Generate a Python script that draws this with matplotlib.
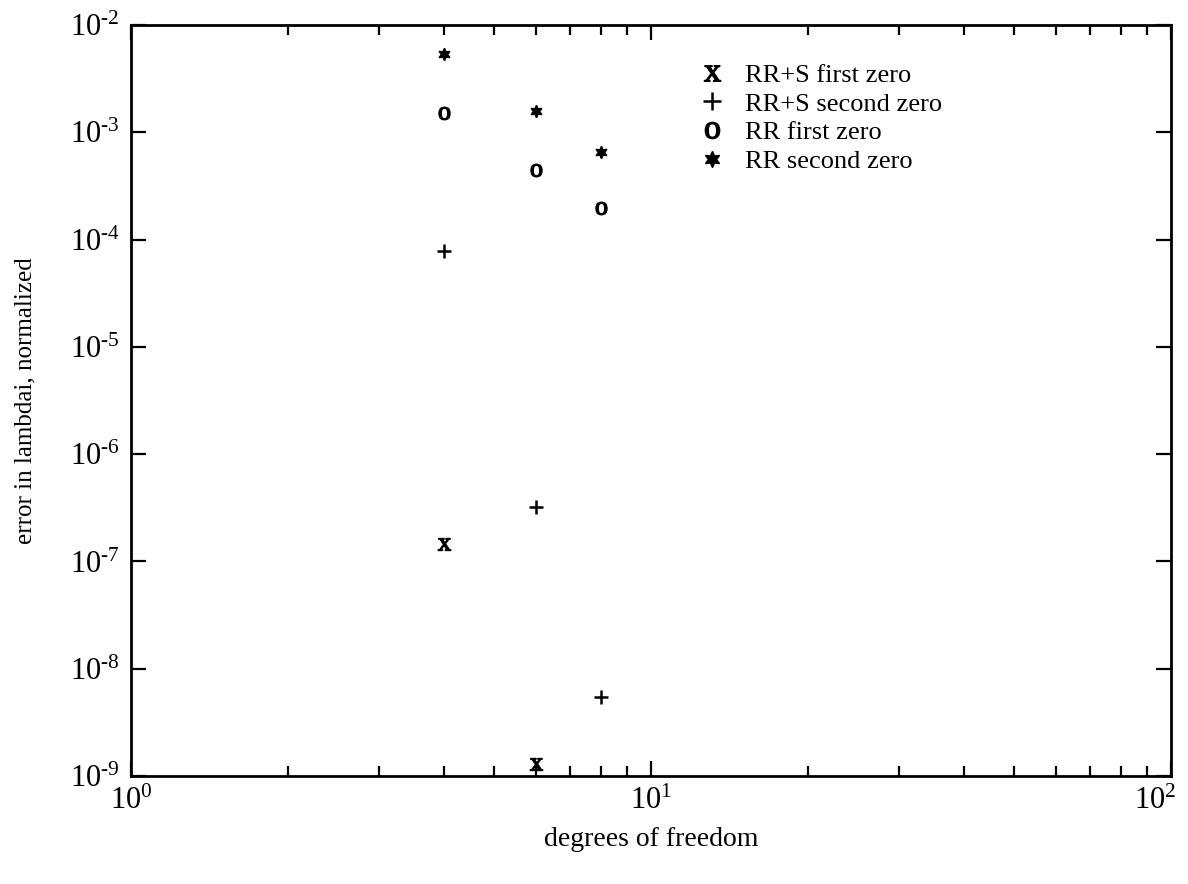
import matplotlib.pyplot as plt
import matplotlib.ticker as ticker
import matplotlib.transforms as mtransforms
import numpy as np

plt.rcParams['font.family'] = ['Liberation Serif', 'DejaVu Serif']
plt.rcParams['mathtext.fontset'] = 'custom'
plt.rcParams['mathtext.rm'] = 'Liberation Serif'
plt.rcParams['mathtext.it'] = 'Liberation Serif:italic'
plt.rcParams['mathtext.bf'] = 'Liberation Serif:bold'

# degrees of freedom and normalized errors in lambda_i
dof_rrs_first = [4, 6]
err_rrs_first = [1.45e-7, 1.3e-9]

dof_rrs_second = [4, 6, 8]
err_rrs_second = [7.8e-5, 3.2e-7, 5.4e-9]

dof_rr_first = [4, 6, 8]
err_rr_first = [1.5e-3, 4.45e-4, 1.95e-4]

dof_rr_second = [4, 6, 8]
err_rr_second = [5.4e-3, 1.58e-3, 6.6e-4]

labels = ['RR+S first zero', 'RR+S second zero', 'RR first zero', 'RR second zero']

x_decades = [1, 10, 100]
y_decades = [1e-9, 1e-8, 1e-7, 1e-6, 1e-5, 1e-4, 1e-3, 1e-2]


def pow10_label(v, pos):
    e = int(round(np.log10(v)))
    sign = r'\text{-}' if e < 0 else ''
    return r'$\mathdefault{10^{%s%d}}$' % (sign, abs(e))


fig = plt.figure(figsize=(11.88, 8.84), dpi=100)
ax = fig.add_axes([0.1103, 0.1222, 0.8754, 0.8495])

ax.loglog(dof_rrs_first, err_rrs_first, linestyle='none', marker=r'$\mathrm{x}$',
          ms=9, color='k', label=labels[0])
ax.loglog(dof_rrs_second, err_rrs_second, linestyle='none', marker='+',
          ms=10, mew=1.8, color='k', label=labels[1])
ax.loglog(dof_rr_first, err_rr_first, linestyle='none', marker=r'$\mathrm{o}$',
          ms=9, color='k', label=labels[2])
ax.loglog(dof_rr_second, err_rr_second, linestyle='none', marker=(6, 1, 0),
          ms=9, color='k', label=labels[3])

ax.set_xlim(1, 100)
ax.set_ylim(1e-9, 1e-2)

ax.xaxis.set_major_locator(ticker.FixedLocator(x_decades))
ax.xaxis.set_minor_locator(ticker.LogLocator(base=10, subs=np.arange(2, 10)))
ax.yaxis.set_major_locator(ticker.FixedLocator(y_decades))
ax.yaxis.set_minor_locator(ticker.NullLocator())
ax.xaxis.set_major_formatter(ticker.FuncFormatter(pow10_label))
ax.yaxis.set_major_formatter(ticker.FuncFormatter(pow10_label))
ax.xaxis.set_minor_formatter(ticker.NullFormatter())

ax.tick_params(which='both', direction='in', top=True, right=True,
               labelsize=22, width=1.6)
ax.tick_params(which='major', length=11, pad=8)
ax.tick_params(which='minor', length=7)
for sp in ax.spines.values():
    sp.set_linewidth(2)

ax.set_xlabel('degrees of freedom', fontsize=20, labelpad=8)
ax.set_ylabel('error in lambdai, normalized', fontsize=18, labelpad=24)

# keep the rightmost x label inside the figure
fig.canvas.draw()
last = ax.get_xticklabels()[-1]
last.set_transform(last.get_transform() +
                   mtransforms.ScaledTranslation(-0.16, 0, fig.dpi_scale_trans))

leg = ax.legend(loc='upper left', bbox_to_anchor=(0.537, 0.963), frameon=False,
                fontsize=19, handlelength=0.9, handletextpad=0.8,
                labelspacing=0.2, markerscale=1.3, borderaxespad=0)

plt.savefig('out.png', dpi=100)
